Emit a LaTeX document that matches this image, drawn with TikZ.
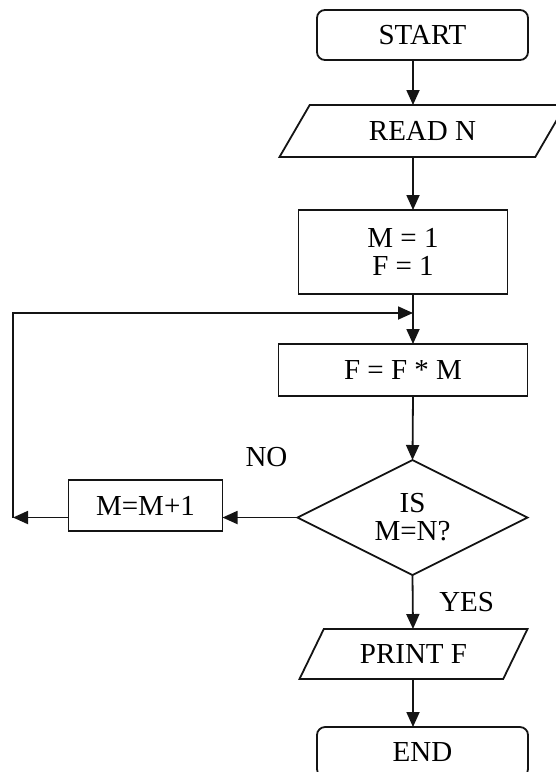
\documentclass[tikz,border=0pt]{standalone}
\usepackage{fontspec}
\setmainfont{Liberation Serif}
\usepackage{tikz}
\usetikzlibrary{positioning,arrows.meta,shapes.geometric}
\definecolor{fLine}{RGB}{20,20,20}
\tikzset{
  term/.style={rectangle, rounded corners=4pt, draw=fLine, line width=0.9pt,
               minimum height=25pt, minimum width=105.5pt, align=center,
               inner sep=2pt, outer sep=0pt},
  proc/.style={rectangle, draw=fLine, line width=0.9pt, align=center,
               inner sep=2pt, outer sep=0pt},
  io/.style={trapezium, trapezium stretches body, draw=fLine, line width=0.9pt,
             align=center, inner sep=2pt, outer sep=0pt},
  decision/.style={diamond, aspect=2, draw=fLine, line width=0.9pt, align=center,
                   inner sep=0pt, outer sep=0pt},
  flow/.style={-{Triangle[length=7.5pt,width=6.5pt]}, draw=fLine, line width=0.9pt},
  lbl/.style={inner sep=0pt},
}

\begin{document}
\begin{tikzpicture}[x=0.5pt, y=-0.5pt,
                    every node/.style={font=\fontsize{14.5}{14}\selectfont}]
  \useasboundingbox (0,0) rectangle (556,772);
  \coordinate (ax) at (413,0);
  \node[term] (start) at (422.5,35) {START};
  \node[io, trapezium left angle=42, trapezium right angle=138,
        minimum width=143pt, minimum height=26pt, below=22.5pt of start] (read) {READ N};
  \node[proc, minimum width=104.5pt, minimum height=42pt,
        below=26.5pt of read, xshift=-9.75pt] (init) {M = 1\\F = 1};
  \node[proc, minimum width=124.5pt, minimum height=26pt, below=25pt of init] (mult) {F = F * M};
  \node[decision, minimum width=115pt, minimum height=57.5pt,
        below=32pt of mult, xshift=4.75pt] (test) {IS\\M=N?};
  \node[proc, minimum width=77pt, minimum height=25.5pt,
        left=37.5pt of test, yshift=6pt] (inc) {M=M+1};
  \node[io, trapezium left angle=48, trapezium right angle=132,
        minimum width=114pt, minimum height=25pt, below=27pt of test, xshift=0.5pt] (print) {PRINT F};
  \node[term, below=24pt of print, xshift=4.5pt] (end) {END};
  \coordinate (join) at (413,313);
  \coordinate (back) at (13,313);
  \draw[flow] (start.south -| ax) -- (read.north -| ax);
  \draw[flow] (read.south -| ax) -- (init.north -| ax);
  \draw[flow] (init.south -| ax) -- (mult.north -| ax);
  \draw[flow] (mult.south -| ax) -- (test.north);
  \draw[flow] (test.west) -- node[lbl, above=25pt, xshift=3.25pt]{NO} (test.west -| inc.east);
  \draw[flow] (inc.west |- test.west) -- (back |- test.west);
  \draw[flow] (back |- test.west) -- (back) -- (join);
  \draw[flow] (test.south) -- node[lbl, right=12.8pt]{YES} (print.north -| ax);
  \draw[flow] (print.south -| ax) -- (end.north -| ax);
\end{tikzpicture}
\end{document}
